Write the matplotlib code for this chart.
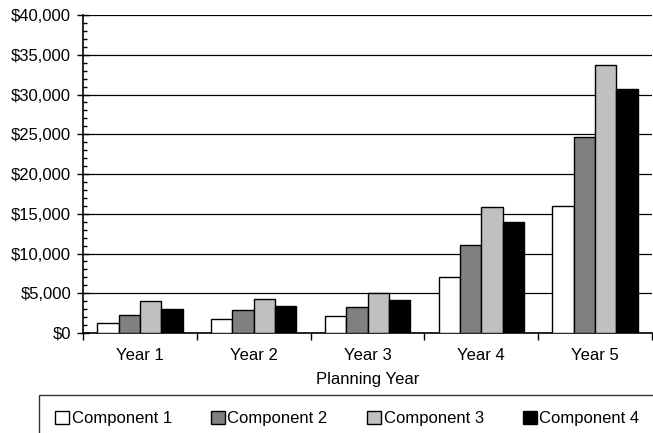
import numpy as np
import matplotlib.pyplot as plt
from matplotlib.ticker import FuncFormatter, MultipleLocator, FixedLocator

# planning costs per component, in dollars
years = ["Year 1", "Year 2", "Year 3", "Year 4", "Year 5"]
component_1 = [1300, 1700, 2200, 7050, 16000]
component_2 = [2300, 2850, 3300, 11100, 24600]
component_3 = [4000, 4300, 5000, 15800, 33750]
component_4 = [3050, 3350, 4200, 14000, 30700]
series_names = ["Component 1", "Component 2", "Component 3", "Component 4"]
series_colors = ["#ffffff", "#808080", "#c0c0c0", "#000000"]


def main():
    plt.rcParams['font.family'] = ['Liberation Sans', 'DejaVu Sans']
    fig = plt.figure(figsize=(6.53, 4.33), dpi=100)
    ax = fig.add_axes([83 / 653, 1 - 333 / 433, (652 - 83) / 653, (333 - 15) / 433])

    series = [component_1, component_2, component_3, component_4]
    x = np.arange(len(years))
    width = 0.188
    for i, (vals, name, color) in enumerate(zip(series, series_names, series_colors)):
        ax.bar(x + (i - 1.5) * width, vals, width, color=color, edgecolor='black',
               linewidth=1.0, label=name, zorder=3)

    ax.set_xlim(-0.5, len(years) - 0.5)
    ax.set_ylim(0, 40000)

    # y axis: dollar labels, minor ticks every $1,000
    ax.yaxis.set_major_locator(MultipleLocator(5000))
    ax.yaxis.set_minor_locator(MultipleLocator(1000))
    ax.yaxis.set_major_formatter(FuncFormatter(lambda v, _: f"${v:,.0f}"))
    ax.tick_params(axis='y', which='major', direction='inout', length=9, width=1,
                   labelsize=12, pad=4)
    ax.tick_params(axis='y', which='minor', direction='in', length=3, width=1)
    ax.grid(axis='y', color='black', linewidth=0.9, zorder=0)

    # x axis: labels at the centres, tick marks between categories
    ax.set_xticks(x)
    ax.set_xticklabels(years)
    ax.xaxis.set_minor_locator(FixedLocator(np.arange(-0.5, len(years), 1.0)))
    ax.tick_params(axis='x', which='major', length=0, labelsize=12, pad=11)
    ax.tick_params(axis='x', which='minor', direction='out', length=5, width=1)
    ax.set_xlabel("Planning Year", fontsize=12, labelpad=6)

    for side in ['top', 'right']:
        ax.spines[side].set_visible(False)
    for side in ['left', 'bottom']:
        ax.spines[side].set_linewidth(1.2)

    leg = fig.legend(loc='upper left', ncol=4,
                     bbox_to_anchor=(39 / 653, 1 - 395 / 433),
                     fontsize=12, frameon=True, fancybox=False, borderaxespad=0,
                     handlelength=0.85, handleheight=0.85, handletextpad=0.15,
                     borderpad=0.95, columnspacing=2.35)
    leg.get_frame().set_edgecolor('black')
    leg.get_frame().set_linewidth(1.0)

    fig.savefig('out.png', dpi=100)


if __name__ == '__main__':
    main()
